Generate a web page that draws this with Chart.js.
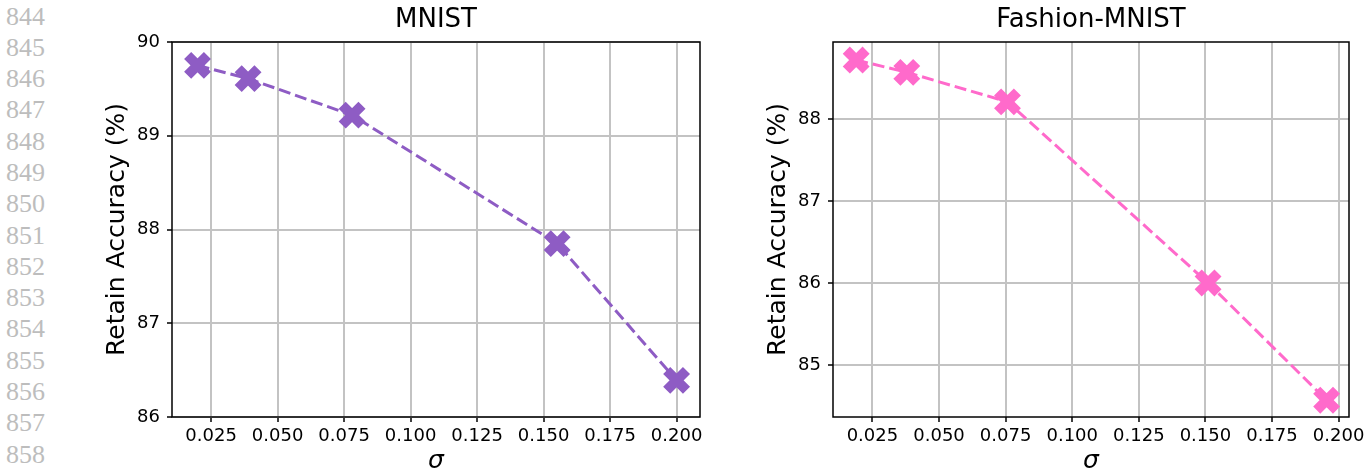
<!DOCTYPE html>
<html>
<head>
<meta charset="utf-8">
<script src="https://cdn.jsdelivr.net/npm/chart.js@4.4.1/dist/chart.umd.min.js"></script>
<style>
  body { margin: 0; background: #fff; width: 1371px; height: 474px; overflow: hidden; position: relative; }
  #lineNos { position: absolute; left: 6px; top: 0.5px; font-family: "Liberation Serif", serif; font-size: 26px; line-height: 31.3px; color: #bdbdbd; }
  .box { position: absolute; top: 0; height: 474px; }
  #box1 { left: 0; width: 720px; }
  #box2 { left: 720px; width: 651px; }
</style>
</head>
<body>
<div id="lineNos"></div>
<div class="box" id="box1"><canvas id="chart1"></canvas></div>
<div class="box" id="box2"><canvas id="chart2"></canvas></div>
<script>
// data
const lineNumbers = [844, 845, 846, 847, 848, 849, 850, 851, 852, 853, 854, 855, 856, 857, 858];

const mnistSigma = [0.0199, 0.0389, 0.078, 0.1551, 0.2];
const mnistAcc = [89.75, 89.61, 89.22, 87.85, 86.39];

const fashionSigma = [0.0189, 0.0379, 0.0757, 0.151, 0.1955];
const fashionAcc = [88.72, 88.57, 88.21, 86.0, 84.57];

const sigmaTicks = [0.025, 0.05, 0.075, 0.1, 0.125, 0.15, 0.175, 0.2];
const mnistTicks = [86, 87, 88, 89, 90];
const fashionTicks = [85, 86, 87, 88];

document.getElementById('lineNos').innerHTML = lineNumbers.map(n => `<div>${n}</div>`).join('');

// matplotlib-like frame around the plot area
const framePlugin = {
  id: 'frame',
  afterDatasetsDraw(chart) {
    const a = chart.chartArea, ctx = chart.ctx;
    ctx.save();
    ctx.strokeStyle = '#000';
    ctx.lineWidth = 1.5;
    ctx.strokeRect(a.left, a.top, a.right - a.left, a.bottom - a.top);
    ctx.restore();
  }
};

function makeChart(id, title, xs, ys, color, yTicks, xRange, yRange, yAxisWidth, yTitlePad, rightPad) {
  const pts = xs.map((x, i) => ({ x: x, y: ys[i] }));
  return new Chart(document.getElementById(id), {
    type: 'line',
    data: {
      datasets: [{
        data: pts,
        borderColor: color,
        backgroundColor: color,
        borderWidth: 3,
        borderDash: [12, 5],
        tension: 0,
        pointStyle: 'crossRot',
        pointRadius: 14,
        pointHoverRadius: 14,
        pointBorderWidth: 10,
        pointBorderColor: color,
        pointBackgroundColor: color,
        clip: false
      }]
    },
    options: {
      responsive: true,
      maintainAspectRatio: false,
      animation: false,
      events: [],
      layout: { autoPadding: false, padding: { left: 0, right: rightPad, top: 0, bottom: 0 } },
      plugins: {
        legend: { display: false },
        tooltip: { enabled: false },
        title: {
          display: true,
          fullSize: false,
          text: title,
          color: '#000',
          font: { family: 'DejaVu Sans', size: 26, weight: 'normal', lineHeight: 1.2 },
          padding: { top: 5, bottom: 5.8 }
        }
      },
      scales: {
        x: {
          type: 'linear',
          min: xRange[0],
          max: xRange[1],
          afterBuildTicks: s => { s.ticks = sigmaTicks.map(v => ({ value: v })); },
          afterFit: s => { s.height = 57; },
          border: { display: false },
          grid: { color: '#c3c3c3', lineWidth: 2, tickColor: '#000', tickWidth: 1.5, tickLength: 5 },
          ticks: {
            color: '#000', padding: 4, maxRotation: 0, autoSkip: false,
            font: { family: 'DejaVu Sans', size: 18 },
            callback: v => v.toFixed(3)
          },
          title: {
            display: true, text: 'σ', color: '#000',
            font: { family: 'DejaVu Sans', size: 25, style: 'italic', lineHeight: 1 },
            padding: { top: 0, bottom: 0 }
          }
        },
        y: {
          type: 'linear',
          min: yRange[0],
          max: yRange[1],
          afterBuildTicks: s => { s.ticks = yTicks.map(v => ({ value: v })); },
          afterFit: s => { s.width = yAxisWidth; },
          border: { display: false },
          grid: { color: '#c3c3c3', lineWidth: 2, tickColor: '#000', tickWidth: 1.5, tickLength: 5 },
          ticks: {
            color: '#000', padding: 7, autoSkip: false,
            font: { family: 'DejaVu Sans', size: 18 },
            callback: v => String(v)
          },
          title: {
            display: true, text: 'Retain Accuracy (%)', color: '#000',
            font: { family: 'DejaVu Sans', size: 25, lineHeight: 1.2 },
            padding: { top: yTitlePad, bottom: 0 }
          }
        }
      }
    },
    plugins: [framePlugin]
  });
}

makeChart('chart1', 'MNIST', mnistSigma, mnistAcc, '#8e5cc4', mnistTicks,
  [0.0103, 0.2088], [86, 90], 172, 102, 20);
makeChart('chart2', 'Fashion-MNIST', fashionSigma, fashionAcc, '#ff6acb', fashionTicks,
  [0.0102, 0.2039], [84.365, 88.94], 113, 43, 22);
</script>
</body>
</html>
